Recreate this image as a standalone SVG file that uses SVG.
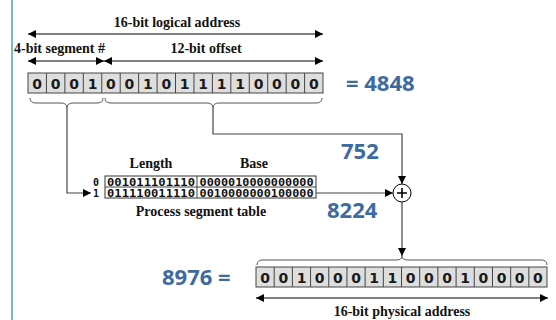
<svg xmlns="http://www.w3.org/2000/svg" width="556" height="320" viewBox="0 0 556 320">
  <defs>
    <marker id="arr" viewBox="0 0 10 10" refX="10" refY="5" markerWidth="8" markerHeight="8" markerUnits="userSpaceOnUse" orient="auto-start-reverse">
      <path d="M0,0 L10,5 L0,10 Z" fill="#000"/>
    </marker>
    <style>
      .lbl { font-family: "Liberation Serif", "Times New Roman", serif; font-weight: bold; font-size: 14px; fill: #111; }
      .num { font-family: "Open Sans", "Liberation Sans", sans-serif; font-weight: bold; font-size: 22px; fill: #3d6a9f; }
      .bit { font-family: "DejaVu Sans", Verdana, sans-serif; font-weight: bold; font-size: 14px; fill: #1a1a1a; text-anchor: middle; }
      .mono { font-family: "DejaVu Sans Mono", "Liberation Mono", monospace; font-weight: bold; font-size: 10px; fill: #111; }
      .cells { fill: #dedede; stroke: #444; stroke-width: 1; }
      .div { stroke: #444; stroke-width: 1; }
      .dim { stroke: #000; stroke-width: 1.2; fill: none; }
      .brace { stroke: #555; stroke-width: 1; fill: none; }
      .wire { stroke: #444; stroke-width: 1.2; fill: none; }
      .tbl { fill: #fff; stroke: #333; stroke-width: 1; }
    </style>
  </defs>

  <!-- page margin rule -->
  <line x1="12" y1="0" x2="12" y2="320" stroke="#4aa7a6" stroke-width="1.5"/>

  <!-- logical address: widths and register -->
  <g id="logical-address">
    <line class="dim" x1="28" y1="34" x2="323" y2="34" marker-start="url(#arr)" marker-end="url(#arr)"/>
    <text class="lbl" x="177" y="27" text-anchor="middle">16-bit logical address</text>
    <line class="dim" x1="28" y1="61" x2="104" y2="61" marker-start="url(#arr)" marker-end="url(#arr)"/>
    <line class="dim" x1="104" y1="61" x2="323" y2="61" marker-start="url(#arr)" marker-end="url(#arr)"/>
    <text class="lbl" x="14" y="53">4-bit segment #</text>
    <text class="lbl" x="206" y="53" text-anchor="middle">12-bit offset</text>
    <rect class="cells" x="28" y="73" width="295" height="20"/>
    <path class="div" d="M46.44,73v20M64.88,73v20M83.32,73v20M101.76,73v20M120.2,73v20M138.64,73v20M157.08,73v20M175.52,73v20M193.96,73v20M212.4,73v20M230.84,73v20M249.28,73v20M267.72,73v20M286.16,73v20M304.6,73v20"/>
    <text class="bit" x="37.22 55.66 74.1 92.54 110.98 129.42 147.86 166.3 184.74 203.18 221.62 240.06 258.5 276.94 295.38 313.82" y="88.5">0001001011110000</text>
    <!-- segment number / offset braces -->
    <path class="brace" d="M30,98 Q30,103 36,103 L61,103 Q67,103 67,108 Q67,103 73,103 L97,103 Q103,103 103,98"/>
    <path class="brace" d="M105,98 Q105,103 111,103 L207,103 Q213,103 213,108 Q213,103 219,103 L316,103 Q322,103 322,98"/>
    <text class="num" x="346" y="91">= 4848</text>
  </g>

  <!-- segment table -->
  <g id="segment-table">
    <text class="lbl" x="151" y="168" text-anchor="middle">Length</text>
    <text class="lbl" x="254" y="168" text-anchor="middle">Base</text>
    <rect class="tbl" x="105" y="176" width="211" height="22"/>
    <line class="div" x1="105" y1="187" x2="316" y2="187"/>
    <line class="div" x1="197" y1="176" x2="197" y2="198"/>
    <text class="mono" x="96" y="185.5" text-anchor="middle">0</text>
    <text class="mono" x="96" y="196.5" text-anchor="middle">1</text>
    <text class="mono" x="151" y="185.5" text-anchor="middle" textLength="88" lengthAdjust="spacingAndGlyphs">001011101110</text>
    <text class="mono" x="151" y="196.5" text-anchor="middle" textLength="88" lengthAdjust="spacingAndGlyphs">011110011110</text>
    <text class="mono" x="256.5" y="185.5" text-anchor="middle" textLength="114" lengthAdjust="spacingAndGlyphs">0000010000000000</text>
    <text class="mono" x="256.5" y="196.5" text-anchor="middle" textLength="114" lengthAdjust="spacingAndGlyphs">0010000000100000</text>
    <text class="lbl" x="201" y="216" text-anchor="middle">Process segment table</text>
  </g>

  <!-- adder -->
  <g id="adder">
    <circle cx="402" cy="193" r="9" fill="#fff" stroke="#000" stroke-width="1"/>
    <path d="M397,193h10M402,188v10" stroke="#000" stroke-width="1.6"/>
  </g>

  <!-- physical address register -->
  <g id="physical-address">
    <text class="num" x="162" y="285">8976 =</text>
    <path class="brace" d="M257,265 Q257,260 263,260 L396,260 Q402,260 402,256 Q402,260 408,260 L541,260 Q547,260 547,265"/>
    <rect class="cells" x="256" y="267" width="291" height="20"/>
    <path class="div" d="M274.19,267v20M292.38,267v20M310.57,267v20M328.76,267v20M346.95,267v20M365.14,267v20M383.33,267v20M401.52,267v20M419.71,267v20M437.9,267v20M456.09,267v20M474.28,267v20M492.47,267v20M510.66,267v20M528.85,267v20"/>
    <text class="bit" x="265.1 283.3 301.5 319.7 337.9 356.0 374.2 392.4 410.6 428.8 447.0 465.2 483.4 501.5 519.7 537.9" y="282.5">0010001100010000</text>
    <line class="dim" x1="256" y1="298" x2="548" y2="298" marker-start="url(#arr)" marker-end="url(#arr)"/>
    <text class="lbl" x="402" y="316" text-anchor="middle">16-bit physical address</text>
  </g>

  <!-- connectors -->
  <g id="connectors">
    <path class="wire" d="M67,108 V193 H91" marker-end="url(#arr)"/>
    <path class="wire" d="M213,108 V134 H402 V184" marker-end="url(#arr)"/>
    <path class="wire" d="M316,193 H393" marker-end="url(#arr)"/>
    <path class="wire" d="M402,202 V256" marker-end="url(#arr)"/>
    <text class="num" x="341" y="159">752</text>
    <text class="num" x="327" y="218">8224</text>
  </g>
</svg>
